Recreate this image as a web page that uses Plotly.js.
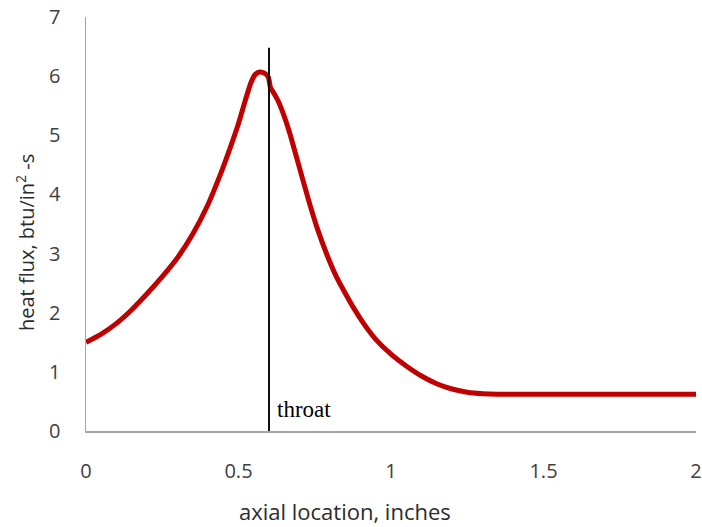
<!DOCTYPE html>
<html>
<head>
<meta charset="utf-8">
<script src="https://cdn.plot.ly/plotly-3.0.1.min.js"></script>
<style>html,body{margin:0;padding:0;background:#fff;}#chart{width:702px;height:527px;}</style>
</head>
<body>
<div id="chart"></div>
<script>
// axial location, inches
const axialLocation = [0, 0.05, 0.1, 0.15, 0.2, 0.25, 0.3, 0.35, 0.4, 0.44, 0.47, 0.5, 0.52, 0.54, 0.555, 0.57, 0.585, 0.598, 0.605, 0.615, 0.63, 0.65, 0.67, 0.7, 0.73, 0.76, 0.79, 0.82, 0.85, 0.88, 0.91, 0.95, 1.0, 1.05, 1.1, 1.15, 1.2, 1.25, 1.3, 1.35, 1.5, 1.75, 2.0];
// heat flux, btu/in^2-s
const heatFlux = [1.50, 1.64, 1.82, 2.05, 2.32, 2.61, 2.93, 3.33, 3.83, 4.33, 4.75, 5.20, 5.55, 5.88, 6.03, 6.07, 6.05, 5.98, 5.80, 5.72, 5.58, 5.32, 5.00, 4.45, 3.90, 3.40, 2.98, 2.62, 2.33, 2.06, 1.82, 1.55, 1.30, 1.10, 0.93, 0.80, 0.71, 0.655, 0.63, 0.62, 0.62, 0.62, 0.62];
// throat marker
const throatX = [0.6, 0.6];
const throatY = [0, 6.48];
const throatLabel = "throat";
const throatLabelPos = [0.62, 0.36];
const xTicks = [0, 0.5, 1, 1.5, 2];
const xTickText = ["0", "0.5", "1", "1.5", "2"];
const yTicks = [0, 1, 2, 3, 4, 5, 6, 7];
const xTitle = "axial location, inches";
const yTitle = "heat flux, btu/in<sup>2</sup> -s";

const sans = "'Open Sans', 'Noto Sans', sans-serif";
const traces = [
  {x: axialLocation, y: heatFlux, type: "scatter", mode: "lines",
   line: {color: "#c00000", width: 5, shape: "spline", smoothing: 0.5}, hoverinfo: "skip"},
  {x: throatX, y: throatY, type: "scatter", mode: "lines",
   line: {color: "#111111", width: 2}, hoverinfo: "skip"}
];
const layout = {
  width: 702, height: 527,
  margin: {l: 86, r: 6, t: 17, b: 96},
  showlegend: false,
  paper_bgcolor: "#ffffff", plot_bgcolor: "#ffffff",
  xaxis: {
    range: [0, 2], tickvals: xTicks, ticktext: xTickText,
    showgrid: false, zeroline: false, showline: true, linecolor: "#a6a6a6", linewidth: 1.5,
    ticks: "", ticklabelstandoff: 21, ticklabeloverflow: "allow",
    tickfont: {family: sans, size: 20, color: "#404040"},
    automargin: false
  },
  yaxis: {
    range: [0, 7], tickvals: yTicks,
    showgrid: false, zeroline: false, showline: true, linecolor: "#a6a6a6", linewidth: 1.5,
    ticks: "", ticklabelstandoff: 20, ticklabeloverflow: "allow",
    tickfont: {family: sans, size: 20, color: "#404040"},
    automargin: false
  },
  annotations: [
    {x: throatLabelPos[0], y: throatLabelPos[1], xref: "x", yref: "y",
     text: throatLabel, showarrow: false, xanchor: "left", yanchor: "middle",
     font: {family: "'Liberation Serif', 'DejaVu Serif', serif", size: 23, color: "#000000"}},
    {x: 0.4246, y: -0.1932, xref: "paper", yref: "paper", text: xTitle, showarrow: false,
     xanchor: "center", yanchor: "middle",
     font: {family: sans, size: 22, color: "#2b2b2b"}},
    {x: -0.1, y: 0.454, xref: "paper", yref: "paper", text: yTitle, showarrow: false,
     textangle: -90, xanchor: "center", yanchor: "middle",
     font: {family: sans, size: 20, color: "#2b2b2b"}}
  ]
};
Plotly.newPlot("chart", traces, layout, {staticPlot: true, displayModeBar: false});
</script>
</body>
</html>
